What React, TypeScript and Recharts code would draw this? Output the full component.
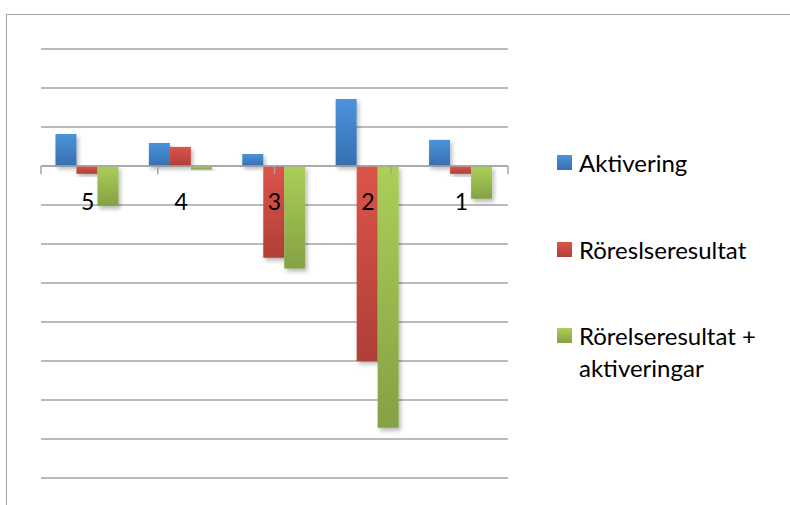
import React from 'react';
import {
  BarChart,
  Bar,
  XAxis,
  YAxis,
  CartesianGrid,
  ReferenceLine,
  ReferenceDot,
  Legend,
} from 'recharts';

// Period labels along the category axis
const categories = ['5', '4', '3', '2', '1'];

// Series values per period
const aktivering = [0.82, 0.59, 0.31, 1.72, 0.67];
const rorelseresultat = [-0.2, 0.49, -2.35, -5.0, -0.2];
const rorelsePlusAktiveringar = [-1.02, -0.09, -2.63, -6.71, -0.84];

// Value-axis gridline positions
const yTicks = [3, 2, 1, 0, -1, -2, -3, -4, -5, -6, -7, -8];

// Category boundaries on a 0..5 numeric helper axis (for axis tick marks)
const boundaries = [0, 1, 2, 3, 4, 5];

const seriesNames = ['Aktivering', 'Röreslseresultat', 'Rörelseresultat + aktiveringar'];

const data = categories.map((cat, i) => ({
  cat,
  akt: aktivering[i],
  ror: rorelseresultat[i],
  sum: rorelsePlusAktiveringar[i],
}));

const GRID = '#a4a4a4';
const FONT = 'Lato, "Open Sans", sans-serif';
const TICK_LEN = 0.21;
const LABEL_Y = -0.92;

const palette = [
  { id: 'gBlue', top: '#4b93da', bottom: '#376fb0' },
  { id: 'gRed', top: '#dc544a', bottom: '#b03f37' },
  { id: 'gGreen', top: '#abcf58', bottom: '#84a144' },
];

const LegendBox = () => (
  <div style={{ fontFamily: FONT, fontSize: 24, color: '#000', width: 232 }}>
    {seriesNames.map((name, i) => (
      <div
        key={name}
        style={{
          display: 'flex',
          alignItems: 'flex-start',
          lineHeight: '32px',
          marginBottom: i < seriesNames.length - 1 ? 54.5 : 0,
        }}
      >
        <div
          style={{
            flex: 'none',
            width: 15,
            height: 15,
            marginTop: 8,
            background: `linear-gradient(${palette[i].top}, ${palette[i].bottom})`,
          }}
        />
        <span style={{ marginLeft: 7, width: 208 }}>{name}</span>
      </div>
    ))}
  </div>
);

export default function App() {
  return (
    <div
      style={{
        position: 'absolute',
        left: 0,
        top: 0,
        width: 790,
        height: 505,
        overflow: 'hidden',
        background: '#fff',
      }}
    >
      <div
        style={{
          position: 'absolute',
          left: 6,
          top: 14,
          width: 800,
          height: 520,
          borderTop: `1.5px solid ${GRID}`,
          borderLeft: `1.5px solid ${GRID}`,
          pointerEvents: 'none',
        }}
      />
      <BarChart
        width={790}
        height={505}
        data={data}
        margin={{ top: 49, right: 282, bottom: 27, left: 41 }}
        barCategoryGap="15.5%"
        barGap={0}
      >
        <defs>
          {palette.map((p) => (
            <linearGradient key={p.id} id={p.id} x1="0" y1="0" x2="0" y2="1">
              <stop offset="0%" stopColor={p.top} />
              <stop offset="100%" stopColor={p.bottom} />
            </linearGradient>
          ))}
          <filter id="barShadow" x="-30%" y="-30%" width="170%" height="170%">
            <feDropShadow dx="2" dy="3" stdDeviation="2" floodColor="#000" floodOpacity="0.28" />
          </filter>
        </defs>
        <CartesianGrid
          xAxisId="cat"
          vertical={false}
          horizontalValues={yTicks}
          stroke={GRID}
          strokeWidth={1.5}
        />
        <XAxis xAxisId="cat" dataKey="cat" hide />
        <XAxis xAxisId="num" type="number" domain={[0, 5]} hide />
        <YAxis
          type="number"
          domain={[-8, 3]}
          ticks={yTicks}
          interval={0}
          width={0}
          axisLine={false}
          tickLine={false}
          tick={{ fill: 'none' }}
        />
        <Bar
          xAxisId="cat"
          dataKey="akt"
          name={seriesNames[0]}
          fill="url(#gBlue)"
          filter="url(#barShadow)"
          isAnimationActive={false}
        />
        <Bar
          xAxisId="cat"
          dataKey="ror"
          name={seriesNames[1]}
          fill="url(#gRed)"
          filter="url(#barShadow)"
          isAnimationActive={false}
        />
        <Bar
          xAxisId="cat"
          dataKey="sum"
          name={seriesNames[2]}
          fill="url(#gGreen)"
          filter="url(#barShadow)"
          isAnimationActive={false}
        />
        <ReferenceLine xAxisId="cat" y={0} stroke={GRID} strokeWidth={1.5} />
        {boundaries.map((b) => (
          <ReferenceLine
            key={`tick-${b}`}
            xAxisId="num"
            segment={[
              { x: b, y: 0 },
              { x: b, y: -TICK_LEN },
            ]}
            stroke={GRID}
            strokeWidth={1.5}
          />
        ))}
        {categories.map((c) => (
          <ReferenceDot
            key={`lbl-${c}`}
            xAxisId="cat"
            x={c}
            y={LABEL_Y}
            r={1}
            fill="none"
            stroke="none"
            label={{
              value: c,
              position: 'center',
              fill: '#000',
              fontSize: 23,
              fontFamily: FONT,
            }}
          />
        ))}
        <Legend
          layout="vertical"
          align="center"
          verticalAlign="middle"
          content={<LegendBox />}
          wrapperStyle={{ left: 557, top: 147, width: 232 }}
        />
      </BarChart>
    </div>
  );
}
